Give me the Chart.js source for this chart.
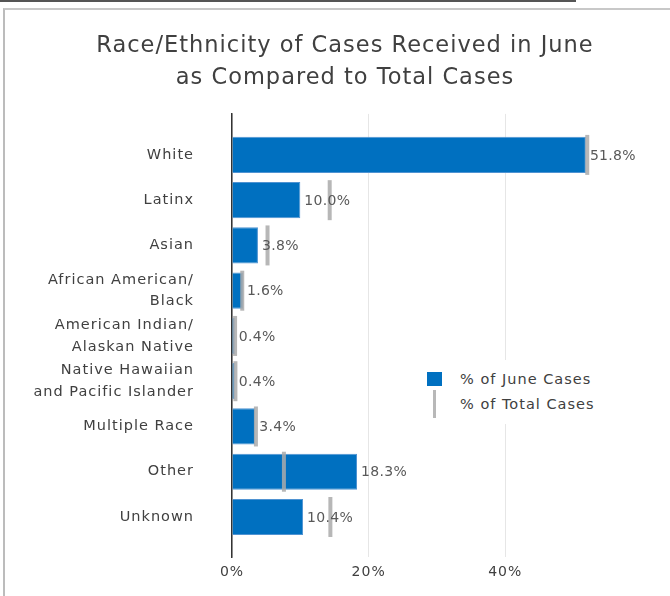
<!DOCTYPE html>
<html>
<head>
<meta charset="utf-8">
<script src="https://cdn.jsdelivr.net/npm/chart.js@4"></script>
<style>
  body { margin: 0; background: #fff; font-family: "DejaVu Sans", sans-serif; }
  #wrap { position: relative; width: 670px; height: 596px; overflow: hidden; }
  #topline { position: absolute; left: 0; top: 0; width: 576px; height: 2px; background: #555; }
  #frame { position: absolute; left: 3px; top: 8px; width: 700px; height: 620px;
           border-top: 2px solid #c8c8c8; border-left: 2px solid #bcbcbc; }
  canvas { position: absolute; left: 0; top: 0; }
  #legend { position: absolute; left: 416px; top: 360px; width: 190px; height: 64px;
            background: #fff; color: #404040; font-size: 14.5px; letter-spacing: 1px; }
  #legend .row { position: absolute; left: 44px; }
  #legend .box { position: absolute; left: 11px; top: 12px; width: 15px; height: 14px; background: #0070c0; }
  #legend .tick { position: absolute; left: 17px; top: 30px; width: 3px; height: 28px; background: #b8b8b8; }
</style>
</head>
<body>
<div id="wrap">
  <div id="topline"></div>
  <div id="frame"></div>
  <canvas id="raceChart" width="670" height="596"></canvas>
  <div id="legend">
    <div class="box"></div><div class="row" style="top:11px">% of June Cases</div>
    <div class="tick"></div><div class="row" style="top:36px">% of Total Cases</div>
  </div>
</div>
<script>
const categories = [
  "White", "Latinx", "Asian", ["African American/", "Black"], ["American Indian/", "Alaskan Native"],
  ["Native Hawaiian", "and Pacific Islander"], "Multiple Race", "Other", "Unknown"
];
const juneCases = [51.8, 10.0, 3.8, 1.6, 0.4, 0.4, 3.4, 18.3, 10.4];
const totalCases = [52.0, 14.3, 5.2, 1.5, 0.45, 0.5, 3.5, 7.6, 14.4];
const xTicks = [0, 20, 40];

// wider text, closer to the original's Century Gothic look
const spacing = {
  id: 'spacing',
  beforeUpdate(chart) { chart.ctx.letterSpacing = '1px'; },
  beforeDraw(chart) { chart.ctx.letterSpacing = '1px'; }
};

// value labels at bar ends
const barLabels = {
  id: 'barLabels',
  afterDatasetsDraw(chart) {
    const ctx = chart.ctx;
    const meta = chart.getDatasetMeta(1);
    ctx.save();
    ctx.letterSpacing = '0.3px';
    ctx.font = '14px "DejaVu Sans"';
    ctx.fillStyle = '#595959';
    ctx.textBaseline = 'middle';
    meta.data.forEach((bar, i) => {
      ctx.fillText(juneCases[i].toFixed(1) + '%', bar.x + 4, bar.y + 1);
    });
    ctx.restore();
  }
};

new Chart(document.getElementById('raceChart'), {
  type: 'bar',
  data: {
    labels: categories,
    datasets: [
      {
        label: '% of Total Cases', type: 'line', indexAxis: 'y', data: totalCases,
        showLine: false, pointStyle: 'line', rotation: 90, pointRadius: 20, pointHoverRadius: 20,
        pointBorderWidth: 4, borderColor: 'rgba(170,170,170,0.85)', order: 0
      },
      {
        label: '% of June Cases', data: juneCases, indexAxis: 'y',
        backgroundColor: '#0070c0', borderColor: '#4f93d2', borderWidth: 1,
        categoryPercentage: 0.8, barPercentage: 1, order: 1
      }
    ]
  },
  options: {
    indexAxis: 'y',
    responsive: false,
    animation: false,
    layout: { padding: { left: 20, right: 0, top: 0, bottom: 0 } },
    plugins: {
      legend: { display: false },
      tooltip: { enabled: false },
      title: {
        display: true,
        text: ['Race/Ethnicity of Cases Received in June', 'as Compared to Total Cases'],
        color: '#404040',
        font: { family: 'DejaVu Sans', size: 22.5, weight: 'normal', lineHeight: 1.42 },
        padding: { top: 30, bottom: 20 }
      }
    },
    scales: {
      x: {
        min: 0, max: 60.6,
        afterBuildTicks: s => { s.ticks = xTicks.map(v => ({ value: v })); },
        afterFit: s => { s.height = 39; s.paddingLeft = 0; s.paddingRight = 0; },
        grid: { color: '#e6e6e6', drawTicks: false },
        border: { display: false },
        ticks: { color: '#404040', font: { family: 'DejaVu Sans', size: 14 }, padding: 7, callback: v => v + '%' }
      },
      y: {
        afterBuildTicks: s => { s._startValue = -0.906; s._valueRange = 9.79; },
        afterFit: s => { s.width = 212; s.paddingTop = 0; s.paddingBottom = 0; },
        grid: { display: false, drawTicks: false },
        border: { display: true, color: '#333', width: 1.5 },
        ticks: { color: '#404040', font: { family: 'DejaVu Sans', size: 14.5, lineHeight: 1.5 }, padding: 38 }
      }
    }
  },
  plugins: [spacing, barLabels]
});
</script>
</body>
</html>
